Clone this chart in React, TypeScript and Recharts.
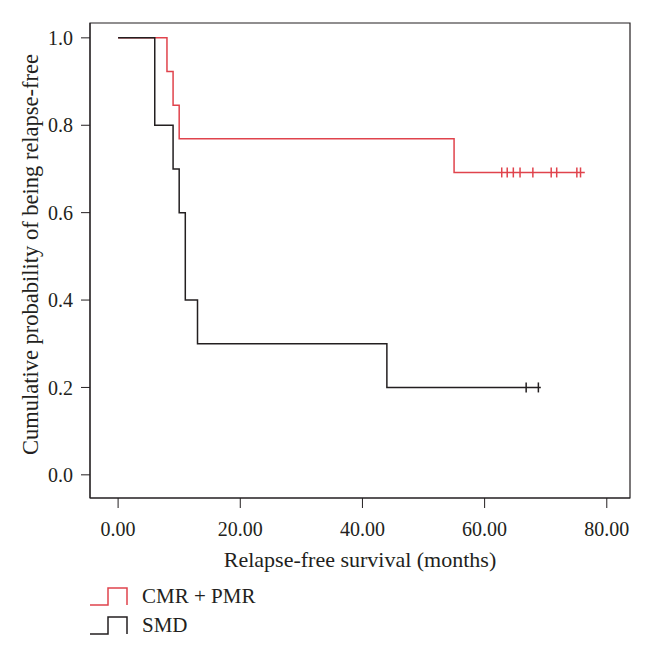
import React from 'react';
import {
  ComposedChart,
  Line,
  Scatter,
  XAxis,
  YAxis,
  ReferenceArea,
  Legend,
  Label,
} from 'recharts';

// Kaplan-Meier steps (months, cumulative probability)
const cmrTimes = [0, 8, 9, 10, 55, 76.4];
const cmrSurv = [1, 0.923, 0.846, 0.769, 0.692, 0.692];
const cmrCensored = [62.8, 63.7, 64.7, 65.8, 67.9, 70.9, 71.8, 75.1, 75.7];

const smdTimes = [0, 6, 9, 10, 11, 13, 44, 69.2];
const smdSurv = [1, 0.8, 0.7, 0.6, 0.4, 0.3, 0.2, 0.2];
const smdCensored = [66.8, 68.8];

const xTicks = [0, 20, 40, 60, 80];
const yTicks = [0, 0.2, 0.4, 0.6, 0.8, 1.0];
const X_DOMAIN: [number, number] = [-4.6, 83.8];
const Y_DOMAIN: [number, number] = [-0.053, 1.034];

const RED = '#e0434c';
const INK = '#231f20';
const FONT = '"Liberation Serif", "DejaVu Serif", serif';

const toSteps = (times: number[], surv: number[]) =>
  times.map((t, i) => ({ t, s: surv[i] }));

// survival value at time t, for placing censor marks on the curve
const survAt = (times: number[], surv: number[], t: number) => {
  let v = surv[0];
  times.forEach((tt, i) => {
    if (tt <= t) v = surv[i];
  });
  return v;
};

const cmrData = toSteps(cmrTimes, cmrSurv);
const smdData = toSteps(smdTimes, smdSurv);
const cmrMarks = cmrCensored.map((t) => ({ t, s: survAt(cmrTimes, cmrSurv, t) }));
const smdMarks = smdCensored.map((t) => ({ t, s: survAt(smdTimes, smdSurv, t) }));

const censorShape = (color: string) => (props: any) => {
  const { cx, cy } = props;
  return <line x1={cx} x2={cx} y1={cy - 5} y2={cy + 5} stroke={color} strokeWidth={1.5} />;
};

const StepLegend = (props: any) => {
  const items = (props.payload || []).filter((p: any) => p.type !== 'none');
  return (
    <svg width={250} height={60}>
      {items.map((item: any, i: number) => {
        const oy = i * 29;
        return (
          <g key={item.value}>
            <path
              d={`M5,${25 + oy} H23 V${8 + oy} H42 V${25 + oy}`}
              fill="none"
              stroke={item.color}
              strokeWidth={1.5}
            />
            <text x={57} y={23 + oy} fontSize={21} fill={INK} fontFamily={FONT}>
              {item.value}
            </text>
          </g>
        );
      })}
    </svg>
  );
};

const YTitle = (props: any) => {
  const { viewBox } = props;
  const cy = viewBox.y + viewBox.height / 2 - 6;
  return (
    <text
      x={38}
      y={cy}
      transform={`rotate(-90 38 ${cy})`}
      textAnchor="middle"
      fontSize={22.5}
      fill={INK}
      fontFamily={FONT}
    >
      Cumulative probability of being relapse-free
    </text>
  );
};

export default function App() {
  return (
    <div style={{ position: 'absolute', left: 0, top: 0, fontFamily: FONT, background: '#fff' }}>
      <ComposedChart width={646} height={649} margin={{ top: 23, right: 16, bottom: 0, left: 0 }}>
        <XAxis
          type="number"
          dataKey="t"
          domain={X_DOMAIN}
          allowDataOverflow
          ticks={xTicks}
          tickFormatter={(v: number) => v.toFixed(2)}
          height={151}
          tickSize={10}
          tickMargin={14}
          stroke={INK}
          tick={{ fontSize: 20, fill: INK, fontFamily: FONT }}
        >
          <Label
            value="Relapse-free survival (months)"
            position="insideTop"
            offset={53}
            style={{ fontSize: 22, fill: INK, fontFamily: FONT }}
          />
        </XAxis>
        <YAxis
          type="number"
          dataKey="s"
          domain={Y_DOMAIN}
          allowDataOverflow
          ticks={yTicks}
          tickFormatter={(v: number) => v.toFixed(1)}
          width={90}
          tickSize={9}
          tickMargin={8}
          stroke={INK}
          tick={{ fontSize: 20, fill: INK, fontFamily: FONT }}
        >
          <Label content={YTitle} />
        </YAxis>
        <ReferenceArea
          x1={X_DOMAIN[0]}
          x2={X_DOMAIN[1]}
          y1={Y_DOMAIN[0]}
          y2={Y_DOMAIN[1]}
          fill="none"
          stroke={INK}
          strokeWidth={1.2}
          fillOpacity={0}
        />
        <Line
          data={cmrData}
          dataKey="s"
          name="CMR + PMR"
          type="stepAfter"
          stroke={RED}
          strokeWidth={1.5}
          dot={false}
          isAnimationActive={false}
        />
        <Line
          data={smdData}
          dataKey="s"
          name="SMD"
          type="stepAfter"
          stroke={INK}
          strokeWidth={1.5}
          dot={false}
          isAnimationActive={false}
        />
        <Scatter
          data={cmrMarks}
          dataKey="s"
          legendType="none"
          shape={censorShape(RED)}
          isAnimationActive={false}
        />
        <Scatter
          data={smdMarks}
          dataKey="s"
          legendType="none"
          shape={censorShape(INK)}
          isAnimationActive={false}
        />
        <Legend
          layout="horizontal"
          verticalAlign="middle"
          align="center"
          wrapperStyle={{ top: 580, left: 85, width: 250, height: 60 }}
          content={StepLegend}
        />
      </ComposedChart>
    </div>
  );
}
